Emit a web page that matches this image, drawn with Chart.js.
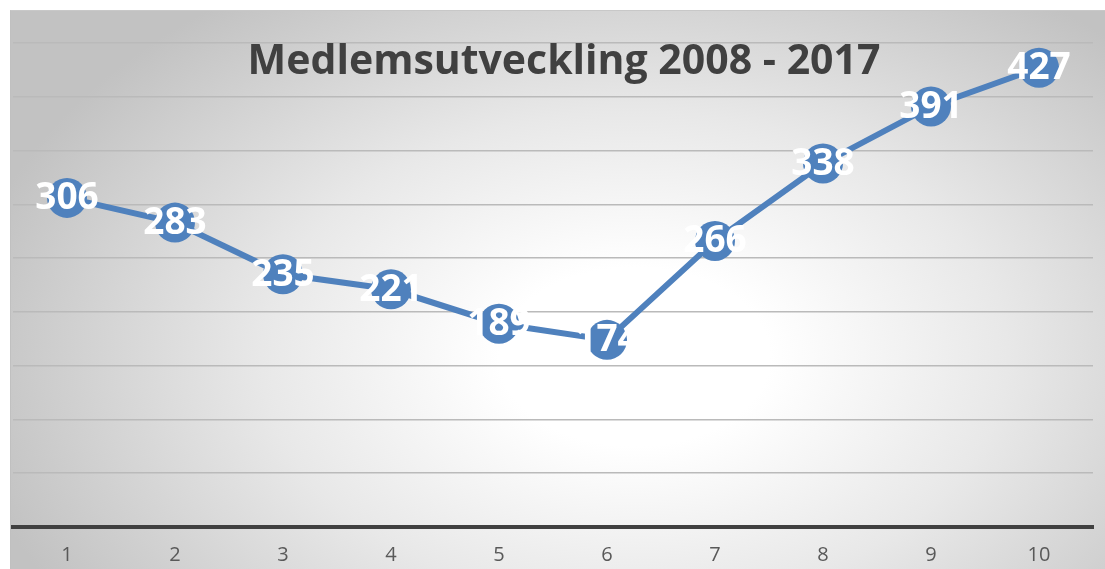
<!DOCTYPE html>
<html>
<head>
<meta charset="utf-8">
<script src="https://cdn.jsdelivr.net/npm/chart.js@4/dist/chart.umd.min.js"></script>
<style>
  html, body { margin: 0; padding: 0; background: #fff; }
  #wrap {
    position: absolute; left: 10px; top: 10px; width: 1095px; height: 559px;
    border-top: 1px solid #c8c8c8; border-left: 1px solid #c0c0c0;
    box-sizing: border-box; overflow: hidden;
    background: radial-gradient(ellipse 62% 80% at 57% 62%, #ffffff 0%, #ffffff 20%, #e8e8e8 55%, #c2c2c2 100%);
  }
</style>
</head>
<body>
<div id="wrap"><canvas id="myChart"></canvas></div>
<script>
'use strict';

// data
var years = ['1', '2', '3', '4', '5', '6', '7', '8', '9', '10'];
var members = [306, 283, 235, 221, 189, 174, 266, 338, 391, 427];
var chartTitle = 'Medlemsutveckling 2008 - 2017';

var blue = '#4f81bd';

// white numbers on top of each marker
var pointLabels = {
  id: 'pointLabels',
  afterDatasetsDraw: function (chart) {
    var ctx = chart.ctx;
    var meta = chart.getDatasetMeta(0);
    ctx.save();
    ctx.fillStyle = '#ffffff';
    ctx.font = 'bold 37px "Open Sans"';
    ctx.textAlign = 'center';
    ctx.textBaseline = 'middle';
    meta.data.forEach(function (pt, i) {
      ctx.fillText(chart.data.datasets[0].data[i], pt.x, pt.y + 1);
    });
    ctx.restore();
  }
};

// title sits on top of the plot, like the excel overlay title
var overlayTitle = {
  id: 'overlayTitle',
  afterDraw: function (chart) {
    var ctx = chart.ctx;
    ctx.save();
    ctx.fillStyle = '#404040';
    ctx.font = 'bold 41px "Open Sans"';
    ctx.textAlign = 'center';
    ctx.textBaseline = 'middle';
    ctx.fillText(chartTitle, 553, 51);
    ctx.restore();
  }
};

var canvas = document.getElementById('myChart');
// a bit taller than the box: chart.js reserves the tick padding twice,
// the spare strip at the bottom is cut off by the wrapper
canvas.width = 1093;
canvas.height = 572;
var ctx = canvas.getContext('2d');

var myChart = new Chart(ctx, {
  type: 'line',
  data: {
    labels: years,
    datasets: [{
      label: 'Medlemmar',
      data: members,
      borderColor: blue,
      borderWidth: 6,
      backgroundColor: blue,
      pointRadius: 20,
      pointBorderWidth: 0,
      pointBackgroundColor: blue,
      tension: 0,
      fill: false,
      clip: false
    }]
  },
  options: {
    responsive: false,
    animation: false,
    layout: { autoPadding: false, padding: { left: 2, right: 11, top: 32, bottom: 0 } },
    plugins: {
      legend: { display: false },
      title: { display: false },
      tooltip: { enabled: false }
    },
    scales: {
      x: {
        offset: true,
        grid: { display: false, drawTicks: false },
        border: { display: true, color: '#404040', width: 4 },
        ticks: { color: '#595959', font: { family: 'Open Sans', size: 20 }, padding: 16 }
      },
      y: {
        min: 0,
        max: 450,
        ticks: { display: false, stepSize: 50 },
        grid: { color: '#bababa', lineWidth: 1.5, drawTicks: false },
        border: { display: false }
      }
    }
  },
  plugins: [pointLabels, overlayTitle]
});
</script>
</body>
</html>
